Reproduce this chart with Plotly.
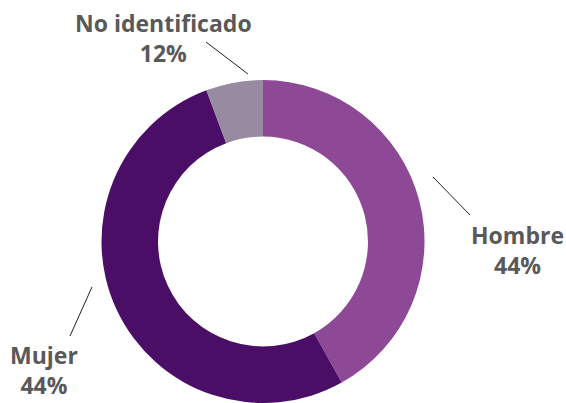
import plotly.graph_objects as go

W, H = 566, 403

categories = ["Hombre", "Mujer", "No identificado"]
slice_values = [41.9, 52.4, 5.7]
pct_labels = ["44%", "44%", "12%"]
colors = ["#8D4896", "#4A0E66", "#978AA1"]

# label block centres (px) and leader lines (px)
label_pos = {"Hombre": (517, 250), "Mujer": (44, 370), "No identificado": (163, 38)}
leader = {"Hombre": ((433, 177), (470, 215)),
          "Mujer": ((92, 287), (70, 336)),
          "No identificado": ((206, 42), (248, 74))}

def px(x, y):
    return x / W, 1 - y / H

cx, cy, r = 263, 242, 162
dx0, dy0 = px(cx - r, cy - r)
dx1, _ = px(cx + r, cy + r)

fig = go.Figure(go.Pie(
    labels=categories, values=slice_values, marker=dict(colors=colors, line=dict(width=0)),
    hole=0.65, sort=False, direction="clockwise", rotation=0,
    textinfo="none", hoverinfo="label+percent",
    domain=dict(x=[dx0, dx1], y=[0, dy0]),
    showlegend=False,
))

shapes = []
annotations = []
for cat, pct in zip(categories, pct_labels):
    (x0, y0), (x1, y1) = leader[cat]
    a, b = px(x0, y0)
    c, d = px(x1, y1)
    shapes.append(dict(type="line", xref="paper", yref="paper", x0=a, y0=b, x1=c, y1=d,
                       line=dict(color="#222222", width=1)))
    lx, ly = px(*label_pos[cat])
    annotations.append(dict(xref="paper", yref="paper", x=lx, y=ly, xanchor="center", yanchor="middle",
                            text=f"<b>{cat}</b><br><b>{pct}</b>", showarrow=False, align="center",
                            font=dict(family="Open Sans", size=23, color="#595959")))

fig.update_layout(width=W, height=H, margin=dict(l=0, r=0, t=0, b=0),
                  paper_bgcolor="white", plot_bgcolor="white",
                  shapes=shapes, annotations=annotations)

fig.write_html("out.html", config={"displayModeBar": False},
               post_script="document.body.style.margin='0';document.body.style.overflow='hidden';")
